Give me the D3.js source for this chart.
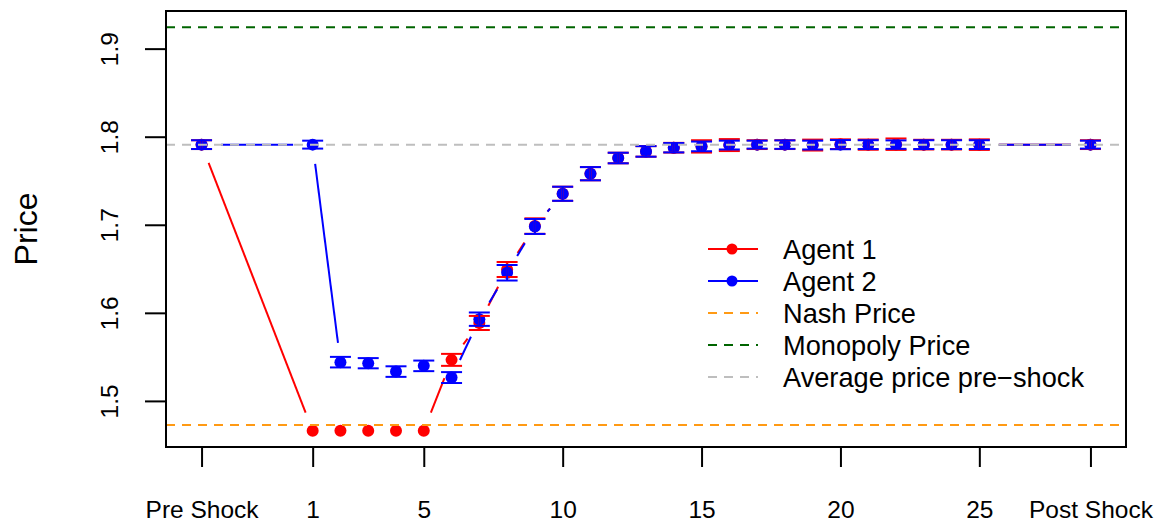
<!DOCTYPE html>
<html>
<head>
<meta charset="utf-8">
<script src="https://cdn.jsdelivr.net/npm/d3@7"></script>
<style>
  body { margin: 0; background: #fff; }
  svg text { font-family: "Liberation Sans", Arial, Helvetica, sans-serif; fill: #000; }
</style>
</head>
<body>
<div id="chart"></div>
<script>
// chart data
var periodLabels = ["Pre Shock", "1", "2", "3", "4", "5", "6", "7", "8", "9", "10", "11", "12", "13",
    "14", "15", "16", "17", "18", "19", "20", "21", "22", "23", "24", "25", "Post Shock"];
var periodX = [-3, 1, 2, 3, 4, 5, 6, 7, 8, 9, 10, 11, 12, 13, 14, 15, 16, 17, 18, 19, 20, 21, 22, 23, 24, 25, 29];

var agent1 = [1.791, 1.466, 1.466, 1.466, 1.466, 1.466, 1.5466, 1.5885, 1.6492, 1.6985, 1.7352, 1.758, 1.7758,
    1.7833, 1.7875, 1.789, 1.7905, 1.791, 1.791, 1.7905, 1.7915, 1.791, 1.7915, 1.791, 1.791, 1.791, 1.791];
var agent2 = [1.791, 1.791, 1.544, 1.5428, 1.5333, 1.5398, 1.5265, 1.5928, 1.6455, 1.6981, 1.7352, 1.758, 1.7758,
    1.7833, 1.7875, 1.789, 1.7905, 1.791, 1.791, 1.7905, 1.791, 1.791, 1.791, 1.791, 1.791, 1.791, 1.791];

// half-width of the error bars (0 = no bar drawn)
var agent1Err = [0.005, 0, 0, 0, 0, 0, 0.0068, 0.008, 0.0085, 0.0088, 0.008, 0.0075, 0.006,
    0.006, 0.0055, 0.007, 0.0068, 0.005, 0.005, 0.0062, 0.0055, 0.0058, 0.0065, 0.0055, 0.0055, 0.006, 0.005];
var agent2Err = [0.005, 0.0045, 0.006, 0.0058, 0.006, 0.006, 0.0062, 0.0076, 0.0088, 0.0085, 0.008, 0.0075, 0.006,
    0.006, 0.0053, 0.0055, 0.005, 0.0045, 0.0048, 0.005, 0.0052, 0.005, 0.0048, 0.005, 0.005, 0.005, 0.0045];

var xTickLabels = ["Pre Shock", "1", "5", "10", "15", "20", "25", "Post Shock"];
var xTickValues = [-3, 1, 5, 10, 15, 20, 25, 29];
var yTickValues = [1.5, 1.6, 1.7, 1.8, 1.9];

var nashPrice = 1.4727;
var monopolyPrice = 1.9244;
var avgPreShock = 1.791;

var legendLabels = ["Agent 1", "Agent 2", "Nash Price", "Monopoly Price", "Average price pre\u2212shock"];

// layout
var svgWidth = 1156;
var svgHeight = 523;
var margin = { top: 11, right: 30, bottom: 76, left: 166 };
var width = svgWidth - margin.left - margin.right;
var height = svgHeight - margin.top - margin.bottom;

var red = "#ff0000";
var blue = "#0000ff";
var orange = "#ff9a14";
var green = "#006400";
var grey = "#bebebe";
var dash = "9,7";

var svg = d3.select("#chart")
    .append("svg")
    .attr("width", svgWidth)
    .attr("height", svgHeight);

var chartGroup = svg.append("g")
    .attr("transform", `translate(${margin.left}, ${margin.top})`);

// R style 4% padding on both axes
function padded(lo, hi) {
    var pad = (hi - lo) * 0.04;
    return [lo - pad, hi + pad];
}

var xScale = d3.scaleLinear()
    .domain(padded(d3.min(periodX), d3.max(periodX)))
    .range([0, width]);

var allY = agent1.concat(agent2, [nashPrice, monopolyPrice]);
var yScale = d3.scaleLinear()
    .domain(padded(d3.min(allY), d3.max(allY)))
    .range([height, 0]);

// type = "b" lines: segments broken around each point
function drawGappedLine(values, color) {
    var gap = 19.5;
    var g = chartGroup.append("g");
    for (var i = 0; i < values.length - 1; i++) {
        var x0 = xScale(periodX[i]), y0 = yScale(values[i]);
        var x1 = xScale(periodX[i + 1]), y1 = yScale(values[i + 1]);
        var d = Math.hypot(x1 - x0, y1 - y0);
        if (d <= 2 * gap) continue;
        var ux = (x1 - x0) / d, uy = (y1 - y0) / d;
        g.append("line")
            .attr("x1", x0 + ux * gap)
            .attr("y1", y0 + uy * gap)
            .attr("x2", x1 - ux * gap)
            .attr("y2", y1 - uy * gap)
            .attr("stroke", color)
            .attr("stroke-width", 2);
    }
}

function drawPoints(values, color) {
    chartGroup.append("g")
        .selectAll("circle")
        .data(values)
        .enter()
        .append("circle")
        .attr("cx", (d, i) => xScale(periodX[i]))
        .attr("cy", d => yScale(d))
        .attr("r", 6)
        .attr("fill", color);
}

function drawErrorBars(values, errs, color) {
    var cap = 10.5;
    var g = chartGroup.append("g")
        .attr("stroke", color)
        .attr("stroke-width", 2);
    values.forEach(function (v, i) {
        if (!errs[i]) return;
        var x = xScale(periodX[i]);
        var yLo = yScale(v - errs[i]);
        var yHi = yScale(v + errs[i]);
        g.append("line").attr("x1", x).attr("x2", x).attr("y1", yLo).attr("y2", yHi);
        g.append("line").attr("x1", x - cap).attr("x2", x + cap).attr("y1", yLo).attr("y2", yLo);
        g.append("line").attr("x1", x - cap).attr("x2", x + cap).attr("y1", yHi).attr("y2", yHi);
    });
}

drawGappedLine(agent1, red);
drawPoints(agent1, red);
drawGappedLine(agent2, blue);
drawPoints(agent2, blue);
drawErrorBars(agent1, agent1Err, red);
drawErrorBars(agent2, agent2Err, blue);

// reference lines
[[nashPrice, orange], [monopolyPrice, green], [avgPreShock, grey]].forEach(function (r) {
    chartGroup.append("line")
        .attr("x1", 0)
        .attr("x2", width)
        .attr("y1", yScale(r[0]))
        .attr("y2", yScale(r[0]))
        .attr("stroke", r[1])
        .attr("stroke-width", 2)
        .attr("stroke-dasharray", dash);
});

// plot box
chartGroup.append("rect")
    .attr("x", 0)
    .attr("y", 0)
    .attr("width", width)
    .attr("height", height)
    .attr("fill", "none")
    .attr("stroke", "#000")
    .attr("stroke-width", 2);

// x axis
var bottomAxis = d3.axisBottom(xScale)
    .tickValues(xTickValues)
    .tickFormat((d, i) => xTickLabels[i])
    .tickSize(19)
    .tickSizeOuter(0);

var xAxis = chartGroup.append("g")
    .attr("transform", `translate(0, ${height + 1})`)
    .call(bottomAxis);
xAxis.select(".domain").remove();
xAxis.selectAll("line").attr("stroke", "#000").attr("stroke-width", 2);
xAxis.selectAll("text")
    .attr("y", 70)
    .attr("dy", 0)
    .style("font-size", "24.5px")
    .style("font-family", "Liberation Sans, Arial, sans-serif");

// y axis
var leftAxis = d3.axisLeft(yScale)
    .tickValues(yTickValues)
    .tickFormat(d3.format(".1f"))
    .tickSize(20)
    .tickSizeOuter(0);

var yAxis = chartGroup.append("g")
    .attr("transform", "translate(-1, 0)")
    .call(leftAxis);
yAxis.select(".domain").remove();
yAxis.selectAll("line").attr("stroke", "#000").attr("stroke-width", 2);
yAxis.selectAll("text")
    .attr("x", 0)
    .attr("dy", 0)
    .attr("transform", "translate(-47, 0) rotate(-90)")
    .attr("text-anchor", "middle")
    .style("font-size", "24.5px")
    .style("font-family", "Liberation Sans, Arial, sans-serif");

// y label
svg.append("text")
    .attr("transform", `translate(37, ${margin.top + height / 2}) rotate(-90)`)
    .attr("text-anchor", "middle")
    .style("font-size", "32px")
    .text("Price");

// legend (no box)
var legend = svg.append("g").attr("transform", "translate(708, 249)");
var legendColors = [red, blue, orange, green, grey];
legendLabels.forEach(function (label, i) {
    var row = legend.append("g").attr("transform", `translate(0, ${i * 32})`);
    var ln = row.append("line")
        .attr("x1", 0)
        .attr("x2", 50)
        .attr("y1", 0)
        .attr("y2", 0)
        .attr("stroke", legendColors[i])
        .attr("stroke-width", 2);
    if (i < 2) {
        row.append("circle").attr("cx", 24).attr("cy", 0).attr("r", 5.5).attr("fill", legendColors[i]);
    } else {
        ln.attr("stroke-dasharray", dash);
    }
    row.append("text")
        .attr("x", 75)
        .attr("y", 0)
        .attr("dy", "0.36em")
        .style("font-size", "27.2px")
        .text(label);
});
</script>
</body>
</html>
